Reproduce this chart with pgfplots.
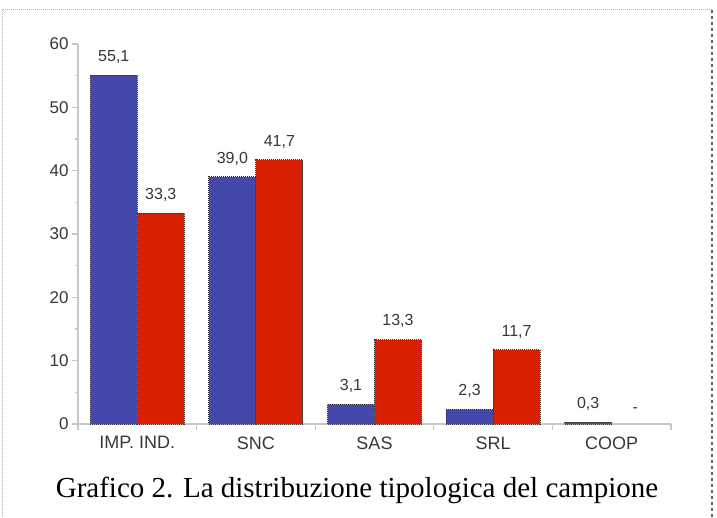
\documentclass[border=0pt]{standalone}
\usepackage{pgfplots}
\pgfplotsset{compat=1.18}
\usepackage{fontspec}
\setmainfont{Liberation Sans}
\newfontfamily\capfont{Liberation Serif}
\definecolor{barblue}{RGB}{68,72,170}
\definecolor{barred}{RGB}{216,32,0}
\definecolor{axgray}{RGB}{200,200,200}
\definecolor{txtgray}{RGB}{55,55,55}
\begin{document}
\begin{tikzpicture}[x=1pt,y=1pt]
\useasboundingbox (0,0) rectangle (717,517);
\draw[gray!60, densely dotted, line width=1pt] (2,0) -- (2,507) -- (712,507);
\draw[black!60, dashed, line width=1.5pt] (712,507) -- (712,0);
\begin{axis}[
  at={(78pt,93pt)}, anchor=south west,
  scale only axis, width=593pt, height=380pt,
  xmin=-0.5, xmax=4.5, ymin=0, ymax=60,
  ybar, bar width=47pt,
  axis lines=left, axis line style={axgray, line width=1.2pt, -},
  ytick={0,10,...,60}, minor y tick num=1,
  tick align=outside, tick style={axgray, line width=1.2pt},
  major tick length=6pt, minor tick length=3pt,
  xtick={-0.5,0.5,...,4.5}, x tick label as interval,
  xticklabels={IMP. IND., SNC, SAS, SRL, COOP},
  xticklabel style={font=\fontsize{18}{18}\selectfont, text=txtgray, yshift=-3pt},
  yticklabel style={font=\fontsize{17}{17}\selectfont, text=txtgray},
  /pgf/number format/assume math mode=true,
  nodes near coords, point meta=explicit symbolic,
  every node near coord/.append style={font=\fontsize{16}{16}\selectfont, text=txtgray, yshift=8pt},
  clip=false,
]
\addplot[bar shift=-23.5pt, fill=barblue, draw=black!80, densely dotted, line width=1pt] table[meta=label] {
x y label
0 55.1 55,1
1 39.0 39,0
2 3.1 3,1
3 2.3 2,3
4 0.3 0,3
};
\addplot[bar shift=23.5pt, fill=barred, draw=black!80, densely dotted, line width=1pt] table[meta=label] {
x y label
0 33.3 33,3
1 41.7 41,7
2 13.3 13,3
3 11.7 11,7
};
\addplot[bar shift=23.5pt, draw=none, fill=none] table[meta=label] {
x y label
4 0 -
};
\end{axis}
\node[font=\capfont\fontsize{29}{29}\selectfont, text=black] at (357,27) {Grafico 2. La distribuzione tipologica del campione};
\end{tikzpicture}
\end{document}
